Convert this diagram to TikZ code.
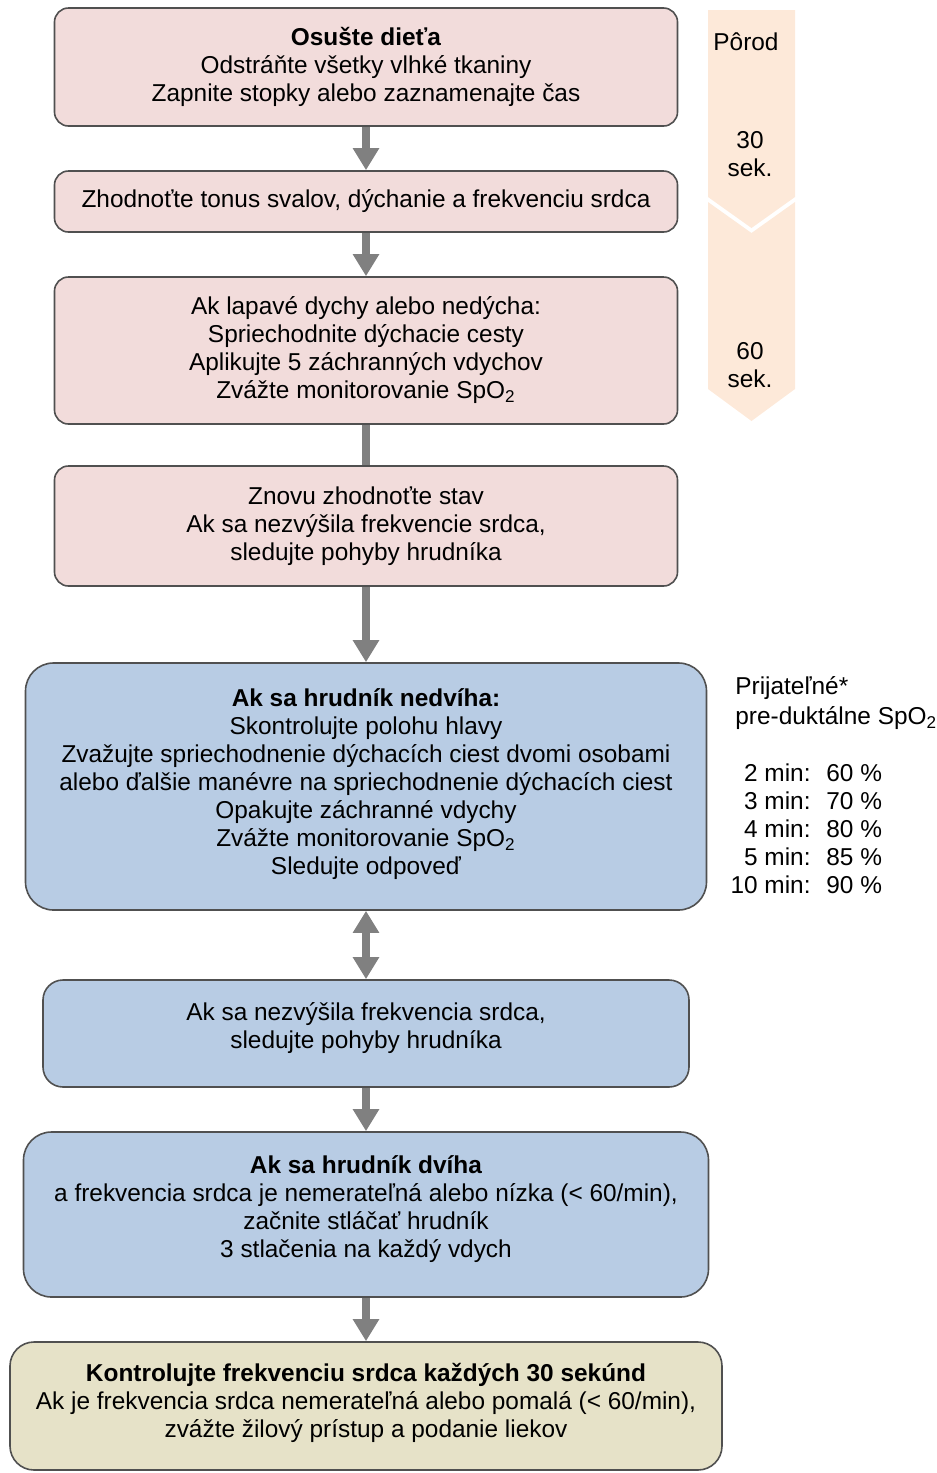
\documentclass[tikz,border=0pt]{standalone}
\usepackage{fontspec}
\setmainfont{Liberation Sans}
\usetikzlibrary{arrows.meta, positioning}
\definecolor{pinkfill}{HTML}{F2DCDB}
\definecolor{bluefill}{HTML}{B8CCE4}
\definecolor{khakifill}{HTML}{E6E2C8}
\definecolor{peach}{HTML}{FDE9D9}
\definecolor{boxline}{HTML}{505050}
\definecolor{arrowgray}{HTML}{808080}
\tikzset{
    stepbox/.style={rectangle, rounded corners=7pt, draw=boxline, line width=0.8pt, align=center, inner sep=0pt, font=\fontsize{12.2}{14}\selectfont},
    pinkbox/.style={stepbox, fill=pinkfill, minimum width=311.5pt},
    bluebox/.style={stepbox, fill=bluefill, rounded corners=14pt},
    khakibox/.style={stepbox, fill=khakifill, rounded corners=12pt},
    label/.style={align=center, inner sep=0pt, font=\fontsize{12.2}{14}\selectfont},
    arrow/.style={line width=4pt, draw=arrowgray, -{Triangle[width=12.5pt,length=11pt]}},
    dblarrow/.style={line width=4pt, draw=arrowgray, {Triangle[width=12.5pt,length=11pt]}-{Triangle[width=12.5pt,length=11pt]}},
    bar/.style={line width=4pt, draw=arrowgray}
}
\newcommand{\spo}{SpO\textsubscript{2}}

\begin{document}
\begin{tikzpicture}[x=0.5pt, y=-0.5pt]
    \useasboundingbox (0,0) rectangle (937,1473);

    % time line on the right
    \fill[peach] (708,10) -- (795,10) -- (795,197) -- (751.5,228) -- (708,197) -- cycle;
    \fill[peach] (708,202) -- (751.5,233) -- (795,202) -- (795,389) -- (751.5,421) -- (708,389) -- cycle;
    \node (birth) [label] at (746,42) {Pôrod};
    \node (sec30) [label] at (750,154) {30\\sek.};
    \node (sec60) [label] at (750,365) {60\\sek.};

    % boxes
    \node (dry) [pinkbox, minimum height=59pt] at (366,67) {\textbf{Osušte dieťa}\\Odstráňte všetky vlhké tkaniny\\Zapnite stopky alebo zaznamenajte čas};
    \node (assess) [pinkbox, minimum height=30.5pt] at (366,201.5) {Zhodnoťte tonus svalov, dýchanie a frekvenciu srdca};
    \node (gasp) [pinkbox, minimum height=73.5pt] at (366,350.5) {Ak lapavé dychy alebo nedýcha:\\Spriechodnite dýchacie cesty\\Aplikujte 5 záchranných vdychov\\Zvážte monitorovanie \spo};
    \node (reassess) [pinkbox, minimum height=60pt] at (366,526) {Znovu zhodnoťte stav\\Ak sa nezvýšila frekvencie srdca,\\sledujte pohyby hrudníka};
    \node (nochest) [bluebox, minimum width=340.5pt, minimum height=123.5pt] at (366,786.5) {\textbf{Ak sa hrudník nedvíha:}\\Skontrolujte polohu hlavy\\Zvažujte spriechodnenie dýchacích ciest dvomi osobami\\alebo ďalšie manévre na spriechodnenie dýchacích ciest\\Opakujte záchranné vdychy\\Zvážte monitorovanie \spo\\Sledujte odpoveď\\[-9.5pt]};
    \node (watch) [bluebox, rounded corners=10pt, minimum width=323pt, minimum height=53.5pt] at (366,1033.5) {Ak sa nezvýšila frekvencia srdca,\\sledujte pohyby hrudníka\\[-6.5pt]};
    \node (chest) [bluebox, minimum width=342.5pt, minimum height=82.5pt] at (366,1214.5) {\textbf{Ak sa hrudník dvíha}\\a frekvencia srdca je nemerateľná alebo nízka (< 60/min),\\začnite stláčať hrudník\\3 stlačenia na každý vdych\\[-6.5pt]};
    \node (check) [khakibox, minimum width=356pt, minimum height=64pt] at (366,1406) {\textbf{Kontrolujte frekvenciu srdca každých 30 sekúnd}\\Ak je frekvencia srdca nemerateľná alebo pomalá (< 60/min),\\zvážte žilový prístup a podanie liekov\\[-8.5pt]};

    % SpO2 targets
    \node (accept) [label, anchor=west] at (735,688) {Prijateľné*};
    \node (pre) [label, anchor=west] at (735,718) {pre-duktálne \spo};
    \foreach \t/\p [count=\i] in {2/60, 3/70, 4/80, 5/85, 10/90} {
        \node (t\i) [label, anchor=east] at (811,745+28*\i) {\t~min:};
        \node (p\i) [label, anchor=west] at (826,745+28*\i) {\p~\%};
    }

    % connectors
    \draw [arrow] (dry) -- (assess);
    \draw [arrow] (assess) -- (gasp);
    \draw [bar] (gasp) -- (reassess);
    \draw [arrow] (reassess) -- (nochest);
    \draw [dblarrow] (nochest) -- (watch);
    \draw [arrow] (watch) -- (chest);
    \draw [arrow] (chest) -- (check);
\end{tikzpicture}
\end{document}
